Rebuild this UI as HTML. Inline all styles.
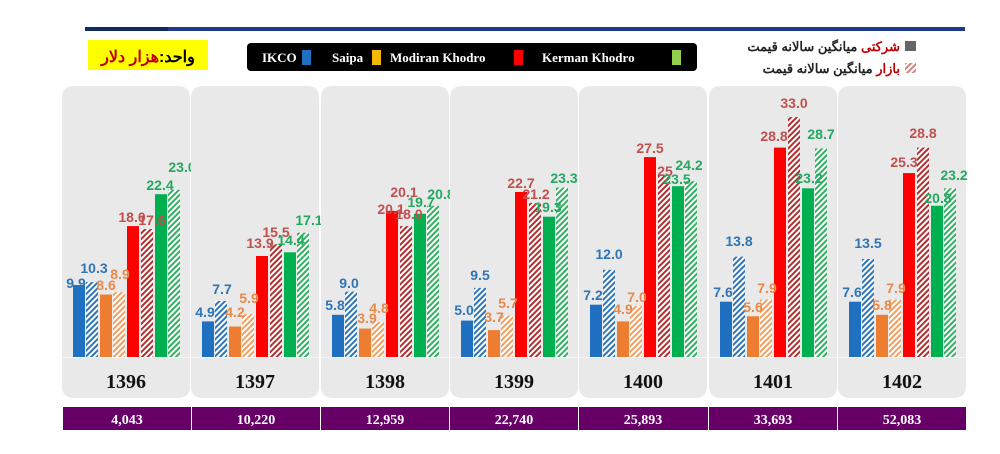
<!DOCTYPE html>
<html><head><meta charset="utf-8"><style>
body{margin:0;background:#fff;width:1000px;height:454px;overflow:hidden}
svg{display:block}
.l{font-family:"Liberation Sans",sans-serif;font-size:14px;font-weight:bold;text-anchor:middle}
.b{fill:#2e75b6}.o{fill:#e8894a}.r{fill:#c0504d}.g{fill:#22a860}
.yr{font-family:"Liberation Serif",serif;font-weight:bold;font-size:20px;text-anchor:middle;fill:#111}
.pv{font-family:"Liberation Serif",serif;font-weight:bold;font-size:14px;text-anchor:middle;fill:#fff}
</style></head><body>
<svg width="1000" height="454" viewBox="0 0 1000 454" xmlns="http://www.w3.org/2000/svg">
<defs>
<pattern id="hb" width="4" height="4" patternUnits="userSpaceOnUse" patternTransform="rotate(45)"><rect width="4" height="4" fill="#fff"/><rect width="2" height="4" fill="#2e75b6"/></pattern>
<pattern id="ho" width="4" height="4" patternUnits="userSpaceOnUse" patternTransform="rotate(45)"><rect width="4" height="4" fill="#fff"/><rect width="2" height="4" fill="#f0a060"/></pattern>
<pattern id="hr" width="4" height="4" patternUnits="userSpaceOnUse" patternTransform="rotate(45)"><rect width="4" height="4" fill="#fff"/><rect width="2" height="4" fill="#b03030"/></pattern>
<pattern id="hg" width="4" height="4" patternUnits="userSpaceOnUse" patternTransform="rotate(45)"><rect width="4" height="4" fill="#fff"/><rect width="2" height="4" fill="#30b060"/></pattern>
<g id="panel"><path d="M0,98 Q0,86 12,86 H116 Q128,86 128,98 V386 Q128,398 116,398 H12 Q0,398 0,386 Z" fill="#e9e9e9"/><rect x="0" y="357" width="128" height="1" fill="#f6f6f6"/></g>
</defs>
<rect x="85" y="27" width="880" height="4" fill="#1f3a8a"/>
<rect x="85" y="27" width="83" height="4" fill="#0e2a5e"/>
<rect x="88" y="40" width="120" height="30" fill="#ffff00"/>
<text x="148" y="62" font-family="'Liberation Sans','Noto Sans CJK SC',sans-serif" font-weight="bold" font-size="16" text-anchor="middle" direction="rtl"><tspan fill="#000">واحد:</tspan><tspan fill="#c00000">هزار دلار</tspan></text>
<rect x="247" y="43" width="450" height="28" rx="4" fill="#000"/>
<g font-family="'Liberation Serif',serif" font-weight="bold" font-size="13" fill="#fff">
<text x="262" y="62">IKCO</text><rect x="302" y="50" width="9" height="15" fill="#1f70c1"/>
<text x="332" y="62">Saipa</text><rect x="372" y="50" width="9" height="15" fill="#f5b800"/>
<text x="390" y="62">Modiran Khodro</text><rect x="514" y="50" width="9" height="15" fill="#ff0000"/>
<text x="542" y="62">Kerman Khodro</text><rect x="672" y="50" width="9" height="15" fill="#92d050"/>
</g>
<g font-family="'Liberation Sans','Noto Sans CJK SC',sans-serif" font-weight="bold" font-size="13" text-anchor="end">
<text x="900" y="51"><tspan fill="#c00000">شرکتی</tspan> <tspan fill="#222">میانگین سالانه قیمت</tspan></text>
<rect x="905" y="41" width="11" height="10" fill="#666"/>
<text x="900" y="73"><tspan fill="#c00000">بازار</tspan> <tspan fill="#222">میانگین سالانه قیمت</tspan></text>
<rect x="905" y="63" width="11" height="10" fill="url(#hr)" opacity="0.6"/>
</g>
<rect x="63" y="407" width="903" height="23" fill="#660066"/>
<g fill="#fff"><rect x="191" y="407" width="1" height="23"/><rect x="320" y="407" width="1" height="23"/><rect x="449" y="407" width="1" height="23"/><rect x="578" y="407" width="1" height="23"/><rect x="708" y="407" width="1" height="23"/><rect x="837" y="407" width="1" height="23"/></g>
<text class="pv" x="127" y="424">4,043</text><text class="pv" x="256" y="424">10,220</text><text class="pv" x="385" y="424">12,959</text><text class="pv" x="514" y="424">22,740</text><text class="pv" x="643" y="424">25,893</text><text class="pv" x="773" y="424">33,693</text><text class="pv" x="902" y="424">52,083</text>

<g transform="translate(62,0)"><use href="#panel"/>
<rect x="11" y="285" width="12" height="72" fill="#1f70c1"/><rect x="24" y="282.1" width="12" height="74.9" fill="url(#hb)"/><rect x="38" y="294.5" width="12" height="62.5" fill="#ed7d31"/><rect x="51" y="292.3" width="12" height="64.7" fill="url(#ho)"/><rect x="65" y="226.1" width="12" height="130.9" fill="#ff0000"/><rect x="79" y="229" width="12" height="128" fill="url(#hr)"/><rect x="93" y="194.2" width="12" height="162.8" fill="#00b050"/><rect x="106" y="189.8" width="12" height="167.2" fill="url(#hg)"/>
<text class="l b" x="14" y="288">9.9</text><text class="l b" x="32" y="273">10.3</text><text class="l o" x="44" y="290">8.6</text><text class="l o" x="58" y="279">8.9</text><text class="l r" x="70" y="222">18.0</text><text class="l r" x="90" y="225">17.6</text><text class="l g" x="98" y="190">22.4</text><text class="l g" x="120" y="172">23.0</text>
<text class="yr" x="64" y="388">1396</text></g>

<g transform="translate(191,0)"><use href="#panel"/>
<rect x="11" y="321.4" width="12" height="35.6" fill="#1f70c1"/><rect x="24" y="301" width="12" height="56" fill="url(#hb)"/><rect x="38" y="326.5" width="12" height="30.5" fill="#ed7d31"/><rect x="51" y="314.1" width="12" height="42.9" fill="url(#ho)"/><rect x="65" y="256" width="12" height="101" fill="#ff0000"/><rect x="79" y="244.3" width="12" height="112.7" fill="url(#hr)"/><rect x="93" y="252.3" width="12" height="104.7" fill="#00b050"/><rect x="106" y="232.7" width="12" height="124.3" fill="url(#hg)"/>
<text class="l b" x="14" y="317">4.9</text><text class="l b" x="31" y="294">7.7</text><text class="l o" x="44" y="317">4.2</text><text class="l o" x="58" y="303">5.9</text><text class="l r" x="69" y="248">13.9</text><text class="l r" x="85" y="237">15.5</text><text class="l g" x="100" y="245">14.4</text><text class="l g" x="118" y="225">17.1</text>
<text class="yr" x="64" y="388">1397</text></g>

<g transform="translate(321,0)"><use href="#panel"/>
<rect x="11" y="314.8" width="12" height="42.2" fill="#1f70c1"/><rect x="24" y="291.6" width="12" height="65.4" fill="url(#hb)"/><rect x="38" y="328.6" width="12" height="28.4" fill="#ed7d31"/><rect x="51" y="322.1" width="12" height="34.9" fill="url(#ho)"/><rect x="65" y="210.9" width="12" height="146.1" fill="#ff0000"/><rect x="79" y="226.1" width="12" height="130.9" fill="url(#hr)"/><rect x="93" y="213.8" width="12" height="143.2" fill="#00b050"/><rect x="106" y="205.8" width="12" height="151.2" fill="url(#hg)"/>
<text class="l b" x="14" y="310">5.8</text><text class="l b" x="28" y="288">9.0</text><text class="l o" x="46" y="323">3.9</text><text class="l o" x="58" y="313">4.8</text><text class="l r" x="70" y="214">20.1</text><text class="l r" x="83" y="197">20.1</text><text class="l r" x="88" y="219">18.0</text><text class="l g" x="100" y="207">19.7</text><text class="l g" x="120" y="199">20.8</text>
<text class="yr" x="64" y="388">1398</text></g>

<g transform="translate(450,0)"><use href="#panel"/>
<rect x="11" y="320.6" width="12" height="36.4" fill="#1f70c1"/><rect x="24" y="287.9" width="12" height="69.1" fill="url(#hb)"/><rect x="38" y="330.1" width="12" height="26.9" fill="#ed7d31"/><rect x="51" y="315.6" width="12" height="41.4" fill="url(#ho)"/><rect x="65" y="192" width="12" height="165" fill="#ff0000"/><rect x="79" y="202.9" width="12" height="154.1" fill="url(#hr)"/><rect x="93" y="216.7" width="12" height="140.3" fill="#00b050"/><rect x="106" y="187.6" width="12" height="169.4" fill="url(#hg)"/>
<text class="l b" x="14" y="315">5.0</text><text class="l b" x="30" y="280">9.5</text><text class="l o" x="44" y="322">3.7</text><text class="l o" x="58" y="308">5.7</text><text class="l r" x="71" y="188">22.7</text><text class="l r" x="86" y="199">21.2</text><text class="l g" x="98" y="212">19.3</text><text class="l g" x="114" y="183">23.3</text>
<text class="yr" x="64" y="388">1399</text></g>

<g transform="translate(579,0)"><use href="#panel"/>
<rect x="11" y="304.7" width="12" height="52.3" fill="#1f70c1"/><rect x="24" y="269.8" width="12" height="87.2" fill="url(#hb)"/><rect x="38" y="321.4" width="12" height="35.6" fill="#ed7d31"/><rect x="51" y="306.1" width="12" height="50.9" fill="url(#ho)"/><rect x="65" y="157.1" width="12" height="199.9" fill="#ff0000"/><rect x="79" y="175.2" width="12" height="181.8" fill="url(#hr)"/><rect x="93" y="186.2" width="12" height="170.8" fill="#00b050"/><rect x="106" y="181.1" width="12" height="175.9" fill="url(#hg)"/>
<text class="l b" x="14" y="300">7.2</text><text class="l b" x="30" y="259">12.0</text><text class="l o" x="44" y="314">4.9</text><text class="l o" x="58" y="302">7.0</text><text class="l r" x="71" y="153">27.5</text><text class="l r" x="86" y="176">25</text><text class="l g" x="98" y="184">23.5</text><text class="l g" x="110" y="170">24.2</text>
<text class="yr" x="64" y="388">1400</text></g>

<g transform="translate(709,0)"><use href="#panel"/>
<rect x="11" y="301.7" width="12" height="55.3" fill="#1f70c1"/><rect x="24" y="256.7" width="12" height="100.3" fill="url(#hb)"/><rect x="38" y="316.3" width="12" height="40.7" fill="#ed7d31"/><rect x="51" y="299.6" width="12" height="57.4" fill="url(#ho)"/><rect x="65" y="147.6" width="12" height="209.4" fill="#ff0000"/><rect x="79" y="117.1" width="12" height="239.9" fill="url(#hr)"/><rect x="93" y="188.3" width="12" height="168.7" fill="#00b050"/><rect x="106" y="148.4" width="12" height="208.6" fill="url(#hg)"/>
<text class="l b" x="14" y="297">7.6</text><text class="l b" x="30" y="246">13.8</text><text class="l o" x="44" y="312">5.6</text><text class="l o" x="58" y="293">7.9</text><text class="l r" x="65" y="141">28.8</text><text class="l r" x="85" y="108">33.0</text><text class="l g" x="100" y="183">23.2</text><text class="l g" x="112" y="139">28.7</text>
<text class="yr" x="64" y="388">1401</text></g>

<g transform="translate(838,0)"><use href="#panel"/>
<rect x="11" y="301.7" width="12" height="55.3" fill="#1f70c1"/><rect x="24" y="258.9" width="12" height="98.1" fill="url(#hb)"/><rect x="38" y="314.8" width="12" height="42.2" fill="#ed7d31"/><rect x="51" y="299.6" width="12" height="57.4" fill="url(#ho)"/><rect x="65" y="173.1" width="12" height="183.9" fill="#ff0000"/><rect x="79" y="147.6" width="12" height="209.4" fill="url(#hr)"/><rect x="93" y="205.8" width="12" height="151.2" fill="#00b050"/><rect x="106" y="188.3" width="12" height="168.7" fill="url(#hg)"/>
<text class="l b" x="14" y="297">7.6</text><text class="l b" x="30" y="248">13.5</text><text class="l o" x="44" y="310">5.8</text><text class="l o" x="58" y="293">7.9</text><text class="l r" x="66" y="167">25.3</text><text class="l r" x="85" y="138">28.8</text><text class="l g" x="100" y="203">20.8</text><text class="l g" x="116" y="180">23.2</text>
<text class="yr" x="64" y="388">1402</text></g>
</svg>
</body></html>
